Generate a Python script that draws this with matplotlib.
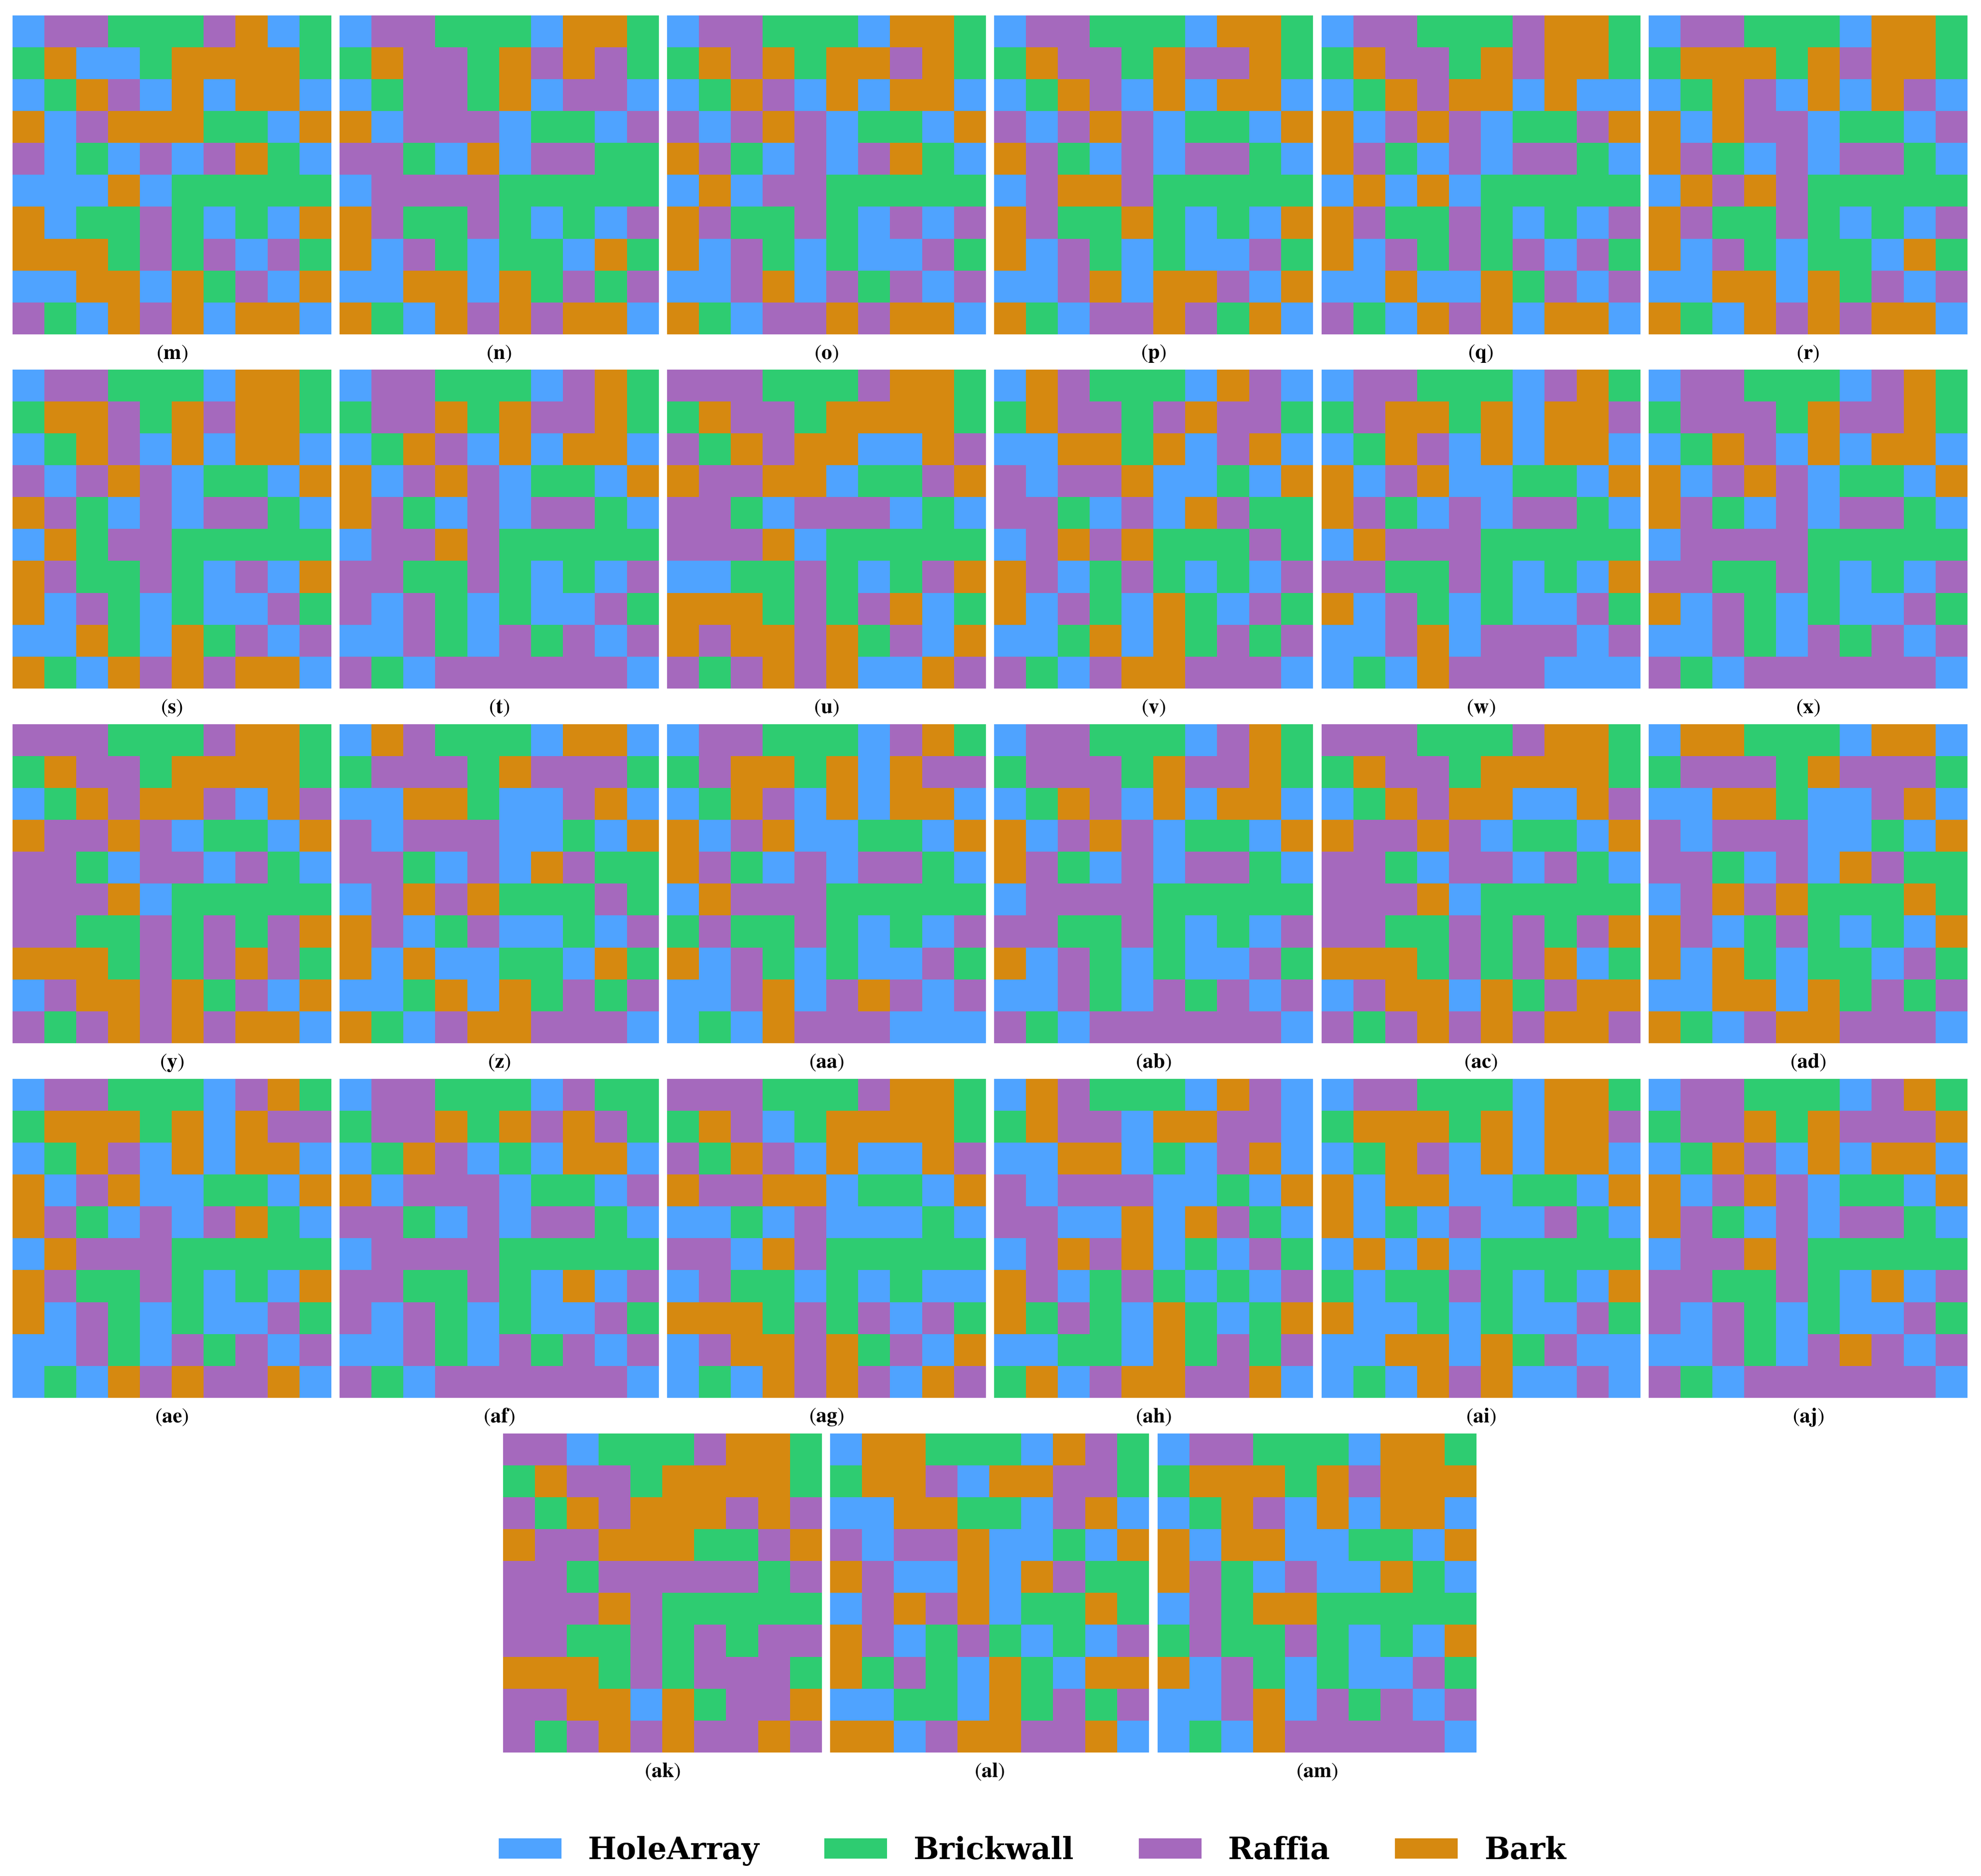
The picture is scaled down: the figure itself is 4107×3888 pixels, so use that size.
import numpy as np
import matplotlib
matplotlib.use("Agg")
import matplotlib.pyplot as plt
from matplotlib.colors import ListedColormap
from matplotlib.patches import Patch

plt.rcParams['mathtext.fontset'] = 'stix'
plt.rcParams['font.family'] = 'STIXGeneral'

## categories, cell codes: B=HoleArray, G=Brickwall, P=Raffia, O=Bark
categories = ['HoleArray', 'Brickwall', 'Raffia', 'Bark']
codes = 'BGPO'
colors = ['#4FA3FF', '#2ECC71', '#A569BD', '#D68910']

grid_m = ["BPPGGGPOBG", "GOBBGOOOOG", "BGOPBOBOOB", "OBPOOOGGBO", "PBGBPBPOGB",
          "BBBOBGGGGG", "OBGGPGBGBO", "OOOGPGPBPG", "BBOOBOGPBO", "PGBOPOBOOB"]
grid_n = ["BPPGGGBOOG", "GOPPGOPOPG", "BGPPGOBPPB", "OBPPPBGGBP", "PPGBOBPPGG",
          "BPPPPGGGGG", "OPGGPGBGBP", "OBPGBGGBOG", "BBOOBOGPGP", "OGBOPOPOOB"]
grid_o = ["BPPGGGBOOG", "GOPOGOOPOG", "BGOPBOBOOB", "PBPOPBGGBO", "OPGBPBPOGB",
          "BOBPPGGGGG", "OPGGPGBPBP", "OBPGBGBBPG", "BBPOBPGPBP", "OGBPPOPOOB"]
grid_p = ["BPPGGGBOOG", "GOPPGOPPOG", "BGOPBOBOOB", "PBPOPBGGBO", "OPGBPBPPGB",
          "BPOOPGGGGG", "OPGGOGBGBO", "OBPGBGBBPG", "BBPOBOOPBO", "OGBPPOPGOB"]
grid_q = ["BPPGGGPOOG", "GOPPGOPOOG", "BGOPOOBOBB", "OBPOPBGGPO", "OPGBPBPPGB",
          "BOBOBGGGGG", "OPGGPGBGBP", "OBPGPGPBPG", "BBOBBOGPBP", "PGBOPOBOOB"]
grid_r = ["BPPGGGBOOG", "GOOOGOPOOG", "BGOPBOBOPB", "OBOPPBGGBP", "OPGBPBPPGB",
          "BOPOPGGGGG", "OPGGPGBGBP", "OBPGBGGBOG", "BBOOBOGPBP", "OGBOPOPOOB"]
grid_s = ["BPPGGGBOOG", "GOOPGOPOOG", "BGOPBOBOOB", "PBPOPBGGBO", "OPGBPBPPGB",
          "BOGPPGGGGG", "OPGGPGBPBO", "OBPGBGBBPG", "BBOGBOGPBP", "OGBOPOPOOB"]
grid_t = ["BPPGGGBPOG", "GPPOGOPPOG", "BGOPBOBOOB", "OBPOPBGGBO", "OPGBPBPPGB",
          "BPPOPGGGGG", "PPGGPGBGBP", "PBPGBGBBPG", "BBPGBPGPBP", "PGBPPPPPPB"]
grid_u = ["PPPGGGPOOG", "GOPPGOOOOG", "PGOPOOBBOP", "OPPOOBGGPO", "PPGBPPPBGB",
          "PPPOBGGGGG", "BBGGPGBGPO", "OOOGPGPOBG", "OPOOPOGPBO", "PGPOPOBBOP"]
grid_v = ["BOPGGGBOPB", "GOPPGPOPPG", "BBOOGOBPOB", "PBPPOBBGBO", "PPGBPBOPGG",
          "BPOPOGGGPG", "OPBGPGBGBP", "OBPGBOGBPG", "BBGOBOGPGP", "PGBPOOPPPB"]
grid_w = ["BPPGGGBPOG", "GPOOGOBOOP", "BGOPBOBOOB", "OBPOBBGGBO", "OPGBPBPPGB",
          "BOPPPGGGGG", "PPGGPGBGBO", "OBPGBGBBPG", "BBPOBPPPBP", "BGBOPPPBBB"]
grid_x = ["BPPGGGBPOG", "GPPPGOPPOG", "BGOPBOBOOB", "OBPOPBGGBO", "OPGBPBPPGB",
          "BPPPPGGGGG", "PPGGPGBGBP", "OBPGBGBBPG", "BBPGBPGPBP", "PGBPPPPPPB"]
grid_y = ["PPPGGGPOOG", "GOPPGOOOOG", "BGOPOOPBOP", "OPPOPBGGBO", "PPGBPPBPGB",
          "PPPOBGGGGG", "PPGGPGPGPO", "OOOGPGPOPG", "BPOOPOGPBO", "PGPOPOPOOB"]
grid_z = ["BOPGGGBOOB", "GPPPGOPPPG", "BBOOGBBPOB", "PBPPPBBGBO", "PPGBPBOPGG",
          "BPOPOGGGPG", "OPBGPBBGBP", "OBOBBGGBOG", "BBGOBOGPGP", "OGBPOOPPPB"]
grid_aa = ["BPPGGGBPOG", "GPOOGOBOPP", "BGOPBOBOOB", "OBPOBBGGBO", "OPGBPBPPGB",
           "BOPPPGGGGG", "GPGGPGBGBP", "OBPGBGBBPG", "BBPOBPOPBP", "BGBOPPPBBB"]
grid_ab = ["BPPGGGBPOG", "GPPPGOPPOG", "BGOPBOBOOB", "OBPOPBGGBO", "OPGBPBPPGB",
           "BPPPPGGGGG", "PPGGPGBGBP", "OBPGBGBBPG", "BBPGBPGPBP", "PGBPPPPPPB"]
grid_ac = ["PPPGGGPOOG", "GOPPGOOOOG", "BGOPOOBBOP", "OPPOPBGGBO", "PPGBPPBPGB",
           "PPPOBGGGGG", "PPGGPGPGPO", "OOOGPGPOBG", "BPOOBOGPOO", "PGPOPOPOOP"]
grid_ad = ["BOOGGGBOOB", "GPPPGOPPPG", "BBOOGBBPOB", "PBPPPBBGBO", "PPGBPBOPGG",
           "BPOPOGGGOG", "OPBGPGBGBO", "OBOGBGGBPG", "BBOOBOGPGP", "OGBPOOPPPB"]
grid_ae = ["BPPGGGBPOG", "GOOOGOBOPP", "BGOPBOBOOB", "OBPOBBGGBO", "OPGBPBPOGB",
           "BOPPPGGGGG", "OPGGPGBGBO", "OBPGBGBBPG", "BBPGBPGPBP", "BGBOPOPPOB"]
grid_af = ["BPPGGGBPGG", "GPPOGOPOPG", "BGOPBGBOOB", "OBPPPBGGBP", "PPGBPBPPGB",
           "BPPPPGGGGG", "PPGGPGBOBP", "PBPGBGBBPG", "BBPGBPGPBP", "PGBPPPPPPB"]
grid_ag = ["PPPGGGPOOG", "GOPBGOOOOG", "PGOPBOBBOP", "OPPOOBGGBO", "BBGBPBBBGB",
           "PPBOPGGGGG", "BPGGBGBGBB", "OOOGPGPBPG", "BPOOPOGPBO", "BGBOPOPBOP"]
grid_ah = ["BOPGGGBOPB", "GOPPBOOPPB", "BBOOBGBPOB", "PBPPPBBGBO", "PPBBOBOPGB",
           "BPOPOBGBPG", "OPBGPGBGBP", "OGPGBOGBGO", "BBGGBOGPGP", "GOBPOOPPOB"]
grid_ai = ["BPPGGGBOOG", "GOOOGOBOOP", "BGOPBOBOOB", "OBOOBBGGBO", "OBGBPBBPGB",
           "BOBOBGGGGG", "GBGGPGBGBO", "OBBGBGBBPG", "BBOOBOGPBB", "BGBOPOBBPB"]
grid_aj = ["BPPGGGBPOG", "GPPOGOPPPO", "BGOPBOBOOB", "OBPOPBGGBO", "OPGBPBPPGB",
           "BPPOPGGGGG", "PPGGPGBOBP", "PBPGBGBBPG", "BBPGBPOPBP", "PGBPPPPPPB"]
grid_ak = ["PPBGGGPOOG", "GOPPGOOOOG", "PGOPOOOPOP", "OPPOOOGGPO", "PPGPPPPPGP",
           "PPPOPGGGGG", "PPGGPGPGPP", "OOOGPGPPPG", "PPOOBOGPPO", "PGPOPOPPOP"]
grid_al = ["BOOGGGBOPG", "GOOPBOOPPG", "BBOOGGBPOB", "PBPPOBBGBO", "OPBBOBOPGG",
           "BPOPOBGGOG", "OPBGPGBGBP", "OGPGBOGBOO", "BBGGBOGPGP", "OOBPOOPPOB"]
grid_am = ["BPPGGGBOOG", "GOOOGOPOOO", "BGOPBOBOOB", "OBOOBBGGBO", "OPGBPBBOGB",
           "BPGOOGGGGG", "GPGGPGBGBO", "OBPGBGBBPG", "BBPOBPGPBP", "BGBOPPPPPB"]

panel_labels = ['m', 'n', 'o', 'p', 'q', 'r', 's', 't', 'u', 'v', 'w', 'x',
                'y', 'z', 'aa', 'ab', 'ac', 'ad', 'ae', 'af', 'ag', 'ah', 'ai', 'aj',
                'ak', 'al', 'am']
grids = [grid_m, grid_n, grid_o, grid_p, grid_q, grid_r, grid_s, grid_t, grid_u,
         grid_v, grid_w, grid_x, grid_y, grid_z, grid_aa, grid_ab, grid_ac, grid_ad,
         grid_ae, grid_af, grid_ag, grid_ah, grid_ai, grid_aj, grid_ak, grid_al, grid_am]

W, H = 4107, 3888
fig = plt.figure(figsize=(W / 300, H / 300), dpi=300)
cmap = ListedColormap(colors)

# layout in pixels
size = 661
pitch_x = 678.4
row_tops = [32, 766, 1501, 2236, 2971]

for i, (lab, g) in enumerate(zip(panel_labels, grids)):
    r, c = divmod(i, 6)
    if r < 4:
        left = 26 + pitch_x * c
    else:
        left = 1043 + pitch_x * c
    top = row_tops[r]
    ax = fig.add_axes([left / W, 1 - (top + size) / H, size / W, size / H])
    arr = np.array([[codes.index(ch) for ch in row] for row in g])
    ax.imshow(arr, cmap=cmap, vmin=-0.5, vmax=3.5, aspect='auto', interpolation='nearest')
    ax.axis('off')
    fig.text((left + size / 2) / W, 1 - (top + size + 40) / H, r'$(\mathbf{%s})$' % lab,
             ha='center', va='center', fontsize=10.5)

handles = [Patch(facecolor=col, edgecolor='none') for col in colors]
fig.legend(handles, categories, loc='center', bbox_to_anchor=(2140 / W, 1 - 3836 / H),
           ncol=4, frameon=False, prop={'family': 'DejaVu Serif', 'weight': 'bold', 'size': 15},
           handlelength=2.08, handleheight=0.65, handletextpad=0.88, columnspacing=2.15)

fig.savefig('out.png', dpi=300, facecolor='white')
